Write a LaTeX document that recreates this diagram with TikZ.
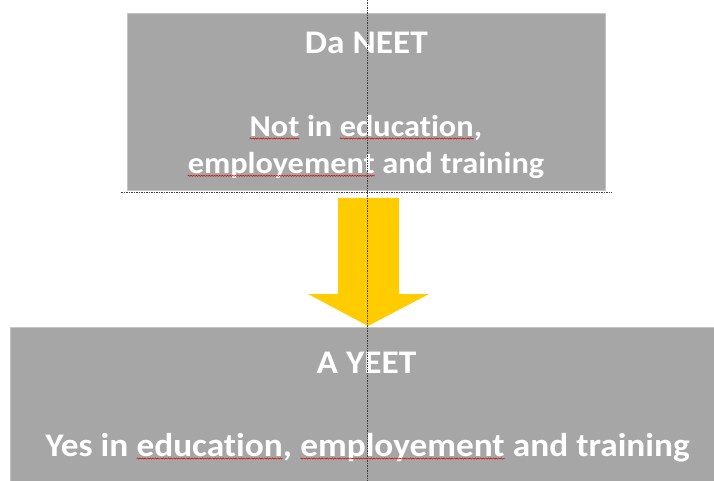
\documentclass[tikz,border=0pt]{standalone}
\usepackage{fontspec}
\setmainfont{Carlito}[FakeStretch=1.07,Ligatures=NoCommon]
\usetikzlibrary{decorations.pathmorphing}
\definecolor{boxgrey}{HTML}{A6A6A6}
\definecolor{boxedge}{HTML}{C4C4C4}
\definecolor{arrowyellow}{HTML}{FFCC00}
\definecolor{guide}{HTML}{404040}
\newcommand\spellmark[1]{\tikz[baseline=(sw.base)]{\node[inner sep=0pt,outer sep=0pt,anchor=base,text=white](sw){#1};\draw[red!85!black,line width=0.5pt,decorate,decoration={snake,amplitude=0.6pt,segment length=2.6pt}]([yshift=-1.8pt]sw.base west)--([yshift=-1.8pt]sw.base east);}}
\begin{document}
\begin{tikzpicture}[x=1pt,y=-1pt,
  txt/.style={text=white,font=\bfseries\fontsize{33}{39}\selectfont,inner sep=0pt,anchor=base},
  smalltxt/.style={txt,font=\bfseries\fontsize{30.2}{36}\selectfont},
  greybox/.style={fill=boxgrey,draw=boxedge,line width=0.8pt,inner sep=0pt},
  guideline/.style={draw=guide,line width=0.6pt,dash pattern=on 1.5pt off 1pt}]
\useasboundingbox (0,0) rectangle (714,481);
\clip (0,0) rectangle (714,481);
\node[greybox,minimum width=478pt,minimum height=177pt] (upper) at (366,102) {};
\node[greybox,minimum width=710pt,minimum height=170pt,anchor=north west] (lower) at (10,327) {};
\coordinate (atop) at (368,198);
\coordinate (atip) at (368,326);
\fill[arrowyellow] ([xshift=-30pt]atop) -- ([xshift=31pt]atop) -- ([xshift=31pt,yshift=-96pt]atop) -- ([xshift=61pt,yshift=32pt]atip) -- (atip) -- ([xshift=-60pt,yshift=32pt]atip) -- ([xshift=-30pt,yshift=-96pt]atop) -- cycle;
\node[txt] (title1) at (366.3,53.7) {Da NEET};
\node[smalltxt] (line1) at (365.8,136.7) {\spellmark{Not} in \spellmark{education},};
\node[smalltxt] (line2) at (365.8,174) {\spellmark{employement} and training};
\node[txt] (title2) at (366.5,373.3) {A YEET};
\node[txt] (line3) at (367.5,456.7) {Yes in \spellmark{education}, \spellmark{employement} and training};
\coordinate (vtop) at (367,0);
\coordinate (vbot) at (367,481);
\draw[guideline] (vtop) -- (vbot);
\coordinate (hl) at (121,192.5);
\coordinate (hr) at (612,192.5);
\draw[guideline] (hl) -- (hr);
\end{tikzpicture}
\end{document}
